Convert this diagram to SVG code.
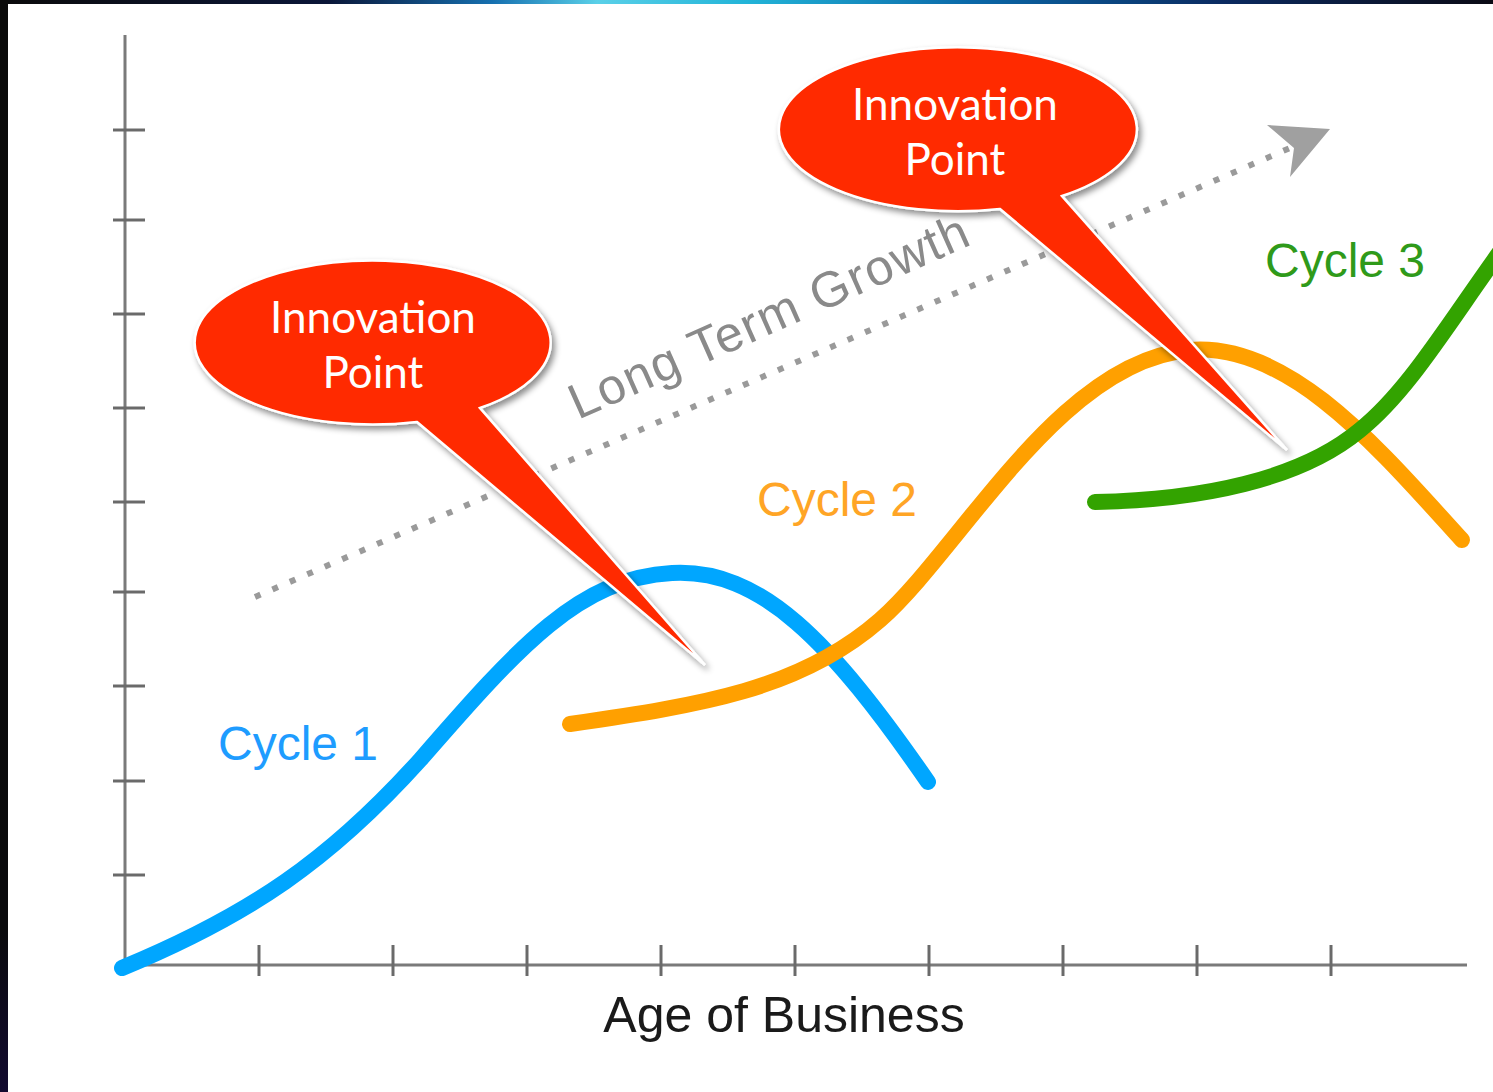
<svg xmlns="http://www.w3.org/2000/svg" width="1493" height="1092" viewBox="0 0 1493 1092">
  <defs>
    <linearGradient id="topbar" x1="0" y1="0" x2="1" y2="0">
      <stop offset="0" stop-color="#0a0a0a"/>
      <stop offset="0.22" stop-color="#0a1638"/>
      <stop offset="0.33" stop-color="#1670b0"/>
      <stop offset="0.40" stop-color="#5ad0e8"/>
      <stop offset="0.50" stop-color="#22b4d8"/>
      <stop offset="0.65" stop-color="#0a68a8"/>
      <stop offset="0.82" stop-color="#0a2a60"/>
      <stop offset="1" stop-color="#0a0a14"/>
    </linearGradient>
    <linearGradient id="leftbar" x1="0" y1="0" x2="0" y2="1">
      <stop offset="0" stop-color="#0a0a0a"/>
      <stop offset="0.85" stop-color="#0a0a0c"/>
      <stop offset="1" stop-color="#120a30"/>
    </linearGradient>
    <filter id="shadow" x="-20%" y="-20%" width="140%" height="140%">
      <feDropShadow dx="3" dy="4" stdDeviation="3" flood-color="#000" flood-opacity="0.45"/>
    </filter>
  </defs>
  <style>
    .axis { stroke: #7a7a7a; stroke-width: 3; fill: none; }
    .tick { stroke: #6a6a6a; stroke-width: 3; fill: none; }
    .curve { fill: none; stroke-width: 16; stroke-linecap: round; stroke-linejoin: round; }
    .label { font-family: "Liberation Sans", Arial, sans-serif; font-size: 48px; }
    .callout { fill: #ff2a00; stroke: #ffffff; stroke-width: 2.5; filter: url(#shadow); }
    .ctext { font-family: Lato, "Open Sans", sans-serif; font-size: 44px; fill: #ffffff; text-anchor: middle; }
  </style>

  <rect x="0" y="0" width="1493" height="1092" fill="#ffffff"/>
  <rect x="0" y="0" width="1493" height="4" fill="url(#topbar)"/>
  <rect x="0" y="0" width="8" height="1092" fill="url(#leftbar)"/>

  <g id="axes">
    <line class="axis" x1="125" y1="35" x2="125" y2="965"/>
    <line class="axis" x1="125" y1="965" x2="1467" y2="965"/>
    <g id="y-ticks">
      <line class="tick" x1="113" y1="130" x2="145" y2="130"/>
      <line class="tick" x1="113" y1="220" x2="145" y2="220"/>
      <line class="tick" x1="113" y1="314" x2="145" y2="314"/>
      <line class="tick" x1="113" y1="408" x2="145" y2="408"/>
      <line class="tick" x1="113" y1="502" x2="145" y2="502"/>
      <line class="tick" x1="113" y1="592" x2="145" y2="592"/>
      <line class="tick" x1="113" y1="686" x2="145" y2="686"/>
      <line class="tick" x1="113" y1="781" x2="145" y2="781"/>
      <line class="tick" x1="113" y1="875" x2="145" y2="875"/>
    </g>
    <g id="x-ticks">
      <line class="tick" x1="259" y1="945" x2="259" y2="976"/>
      <line class="tick" x1="393" y1="945" x2="393" y2="976"/>
      <line class="tick" x1="527" y1="945" x2="527" y2="976"/>
      <line class="tick" x1="661" y1="945" x2="661" y2="976"/>
      <line class="tick" x1="795" y1="945" x2="795" y2="976"/>
      <line class="tick" x1="929" y1="945" x2="929" y2="976"/>
      <line class="tick" x1="1063" y1="945" x2="1063" y2="976"/>
      <line class="tick" x1="1197" y1="945" x2="1197" y2="976"/>
      <line class="tick" x1="1331" y1="945" x2="1331" y2="976"/>
    </g>
    <text id="x-label" x="784" y="1032" font-family="Liberation Sans, Arial, sans-serif" font-size="50" fill="#1a1a1a" text-anchor="middle">Age of Business</text>
  </g>

  <g id="connectors">
    <g id="growth-trend">
      <line x1="255" y1="597" x2="1290" y2="148" stroke="#9a9a9a" stroke-width="6" stroke-dasharray="6 13"/>
      <path d="M1267,125 L1330,129 L1290,177 L1294,148 Z" fill="#a0a0a0"/>
      <text x="578" y="420" transform="rotate(-24 578 420)" font-family="Liberation Sans, Arial, sans-serif" font-size="50" textLength="432" lengthAdjust="spacing" fill="#8a8a8a">Long Term Growth</text>
    </g>
  </g>

  <g id="cycle1">
    <path class="curve" stroke="#00a6ff" d="M122,968 C250,915 330,860 420,760 C520,645 580,578 672,573 C760,568 830,640 928,782"/>
    <text class="label" x="218" y="760" fill="#1e9cff">Cycle 1</text>
  </g>
  <g id="cycle2">
    <path class="curve" stroke="#ffa000" d="M570,724 C700,705 800,690 880,620 C960,550 1060,360 1190,350 C1290,342 1380,450 1462,540"/>
    <text class="label" x="757" y="516" fill="#ffa526">Cycle 2</text>
  </g>
  <g id="cycle3">
    <path class="curve" stroke="#33a300" d="M1095,502 C1200,500 1300,480 1360,430 C1410,390 1450,320 1510,238"/>
    <text class="label" x="1265" y="277" fill="#2f9a1a">Cycle 3</text>
  </g>

  <g id="callout1">
    <path class="callout" d="M417,422 L705,665 L480,408 A178 82 0 1 0 417,422 Z"/>
    <text class="ctext" x="373" y="333">Innovation</text>
    <text class="ctext" x="373" y="388">Point</text>
  </g>
  <g id="callout2">
    <path class="callout" d="M1000,209 L1287,450 L1062,196 A179 82 0 1 0 1000,209 Z"/>
    <text class="ctext" x="955" y="120">Innovation</text>
    <text class="ctext" x="955" y="175">Point</text>
  </g>
</svg>
